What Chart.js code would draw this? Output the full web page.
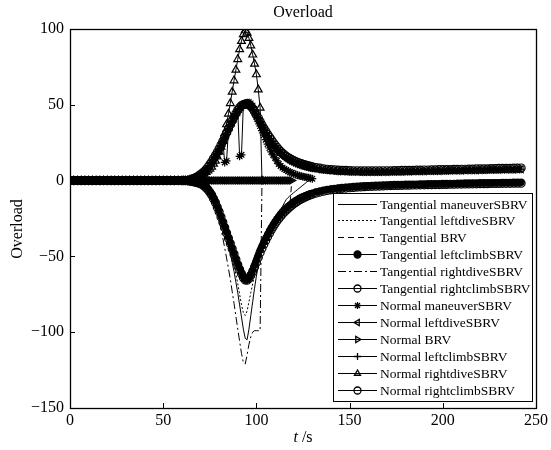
<!DOCTYPE html>
<html>
<head>
<meta charset="utf-8">
<script src="https://cdn.jsdelivr.net/npm/chart.js@4.4.1/dist/chart.umd.min.js"></script>
<style>
  html, body { margin: 0; padding: 0; background: #fff; }
  #wrap { width: 551px; height: 450px; }
</style>
</head>
<body>
<div id="wrap"><canvas id="overloadChart" width="551" height="450"></canvas></div>
<script>
// time, s (finer sampling through the manoeuvre)
const t = [0,2,4,6,8,10,12,14,16,18,20,22,24,26,28,30,32,34,36,38,40,42,44,46,48,50,52,54,56,58,60,
  61,62,63,64,65,66,67,68,69,70,71,72,73,74,75,76,77,78,79,80,81,82,83,84,85,86,87,88,89,90,
  91,92,93,94,95,96,97,98,99,100,101,102,103,104,105,106,107,108,109,110,111,112,113,114,115,116,117,118,119,120,
  121,122,123,124,125,126,127,128,129,130,
  132,134,136,138,140,142,144,146,148,150,152,154,156,158,160,162,164,166,168,170,172,174,176,178,180,
  182,184,186,188,190,192,194,196,198,200,202,204,206,208,210,212,214,216,218,220,222,224,226,228,230,
  232,234,236,238,240,242];

const xTicks = [0, 50, 100, 150, 200, 250];
const yTicks = [-150, -100, -50, 0, 50, 100];

// normal overload
const normalLeftClimb = [0,0,0,0,0,0,0,0,0,0, 0,0,0,0,0,0,0,0,0,0, 0,0,0,0,0,0,0,0,0,0, 0,0,0,0,
  0.3,0.6,1,1.5,2,2.7,3.5,4.5,5.5,6.7, 8,9.7,11.5,13.5,15.5,17.7,20,22.5,25,27.7,
  30.5,33.3,36,38.5,41,43.3,45.5,47.4,49,50.2, 51,51.3,51,50,48.5,46.4,44,41.5,39,36.5,
  34,31.7,29.5,27.4,25.5,23.7,22,20.4,19,17.7, 16.5,15.4,14.5,13.7,13,12.4,11.8,11.3,10.8,10.4,
  10,9.6,9.3,9,8.7,8.4,8.2,
  7.8,7.4,7.1,6.8,6.6,6.4,6.2,6.1,6,5.9, 5.8,5.8,5.7,5.7,5.7,5.7,5.7,5.7,5.7,5.7,
  5.8,5.8,5.9,5.9,6,6,6.1,6.1,6.2,6.2,6.3,6.3,6.4,6.4,6.5,
  6.5,6.6,6.6,6.7,6.7,6.8,6.8,6.9,6.9,7,7,7.1,7.1,7.2,7.2,7.3,7.3,7.4,7.4,7.5,7.5];
const normalRightClimb = [0,0,0,0,0,0,0,0,0,0, 0,0,0,0,0,0,0,0,0,0, 0,0,0,0,0,0,0,0,0,0, 0,0,0,0,
  0.4,0.8,1.2,1.7,2.3,3.1,4,5,6,7.3, 8.8,10.6,12.5,14.5,16.5,18.7,21,23.5,26,28.7,
  31.5,34.3,37,39.5,42,44.3,46.5,48.2,49.5,50.2, 50.5,50.4,50,49,47.5,45.6,43.5,41.3,39,36.7,
  34.5,32.5,30.5,28.7,27,25.2,23.5,22,20.5,19.2, 18,17,16,15.2,14.5,13.8,13.2,12.6,12.1,11.6,
  11.2,10.8,10.4,10,9.7,9.4,9.1,
  8.6,8.2,7.8,7.5,7.3,7.1,6.9,6.8,6.7,6.6, 6.5,6.5,6.4,6.4,6.4,6.4,6.4,6.4,6.5,6.5,
  6.5,6.6,6.6,6.7,6.7,6.8,6.8,6.9,6.9,7,7,7.1,7.1,7.2,7.2,
  7.3,7.3,7.4,7.4,7.5,7.5,7.6,7.6,7.7,7.7,7.8,7.8,7.9,7.9,8,8,8.1,8.1,8.2,8.2,8.3];
const normalManeuver = [0,0,0,0,0,0,0,0,0,0, 0,0,0,0,0,0,0,0,0,0, 0,0,0,0,0,0,0,0,0,0, 0,0,0,0,
  0.3,0.6,1,1.5,2,2.7,3.5,4.5,5.5,6.7, 8,9.7,11.5,13.5,15.5,17.7,20,23,26,12,
  13,33,36.5,39,42,44,46,16,17,50, 51,51,50,48.5,47,44.5,42,39,36,33,
  30,27,24,21.5,19,17,15,13,11,9.7, 8.5,7.7,7,6.2,5.5,5,4.5,4,3.5,3.2,
  3,2.6,2.3,2,1.8,1.5,1.3];
const normalRightDive = [0,0,0,0,0,0,0,0,0,0, 0,0,0,0,0,0,0,0,0,0, 0,0,0,0,0,0,0,0,0,0, 0,0,0,0,
  0.3,0.6,1,1.5,2,2.5,3,3.7,4.5,5.5, 6.5,7.7,9,11,13,15.8,19,22.3,26,31,
  37,44,51,58.5,66,73,80,86.5,92,96.5, 99,97.5,94,89,83,77,70,60,48,0];
const normalBRV = [0,0,0,0,0,0,0,0,0,0, 0,0,0,0,0,0,0,0,0,0, 0,0,0,0,0,0,0,0,0,0, 0,0,0,0,
  0,0,0,0,0,0,0,0,0,0, 0,0,0,0,0,0,0,0,0,0, 0,0,0,0,0,0,0,0,0,0, 0,0,0,0,0,0,0,0,0,0,
  0,0,0,0,0,0,0,0,0,0, 0,0,0,0,0,0];

// tangential overload
const tanLeftClimb = [0,0,0,0,0,0,0,0,0,0, 0,0,0,0,0,0,0,0,0,0, 0,0,0,0,0,0,0,0,0,0, 0,0,0,0,
  -0.2,-0.3,-0.5,-0.7,-1,-1.2,-1.5,-2.2,-3,-4.2, -5.5,-7.2,-9,-11.5,-14,-17,-20,-23.5,-27,-30.5,
  -34,-37.5,-41,-44.5,-48,-51.5,-55,-58,-61,-63.5, -65,-65.2,-64,-61.8,-59,-55.8,-52.5,-49.2,-46,-43.2,
  -40.5,-38,-35.5,-33.2,-31,-29,-27,-25.2,-23.5,-22, -20.5,-19.2,-18,-17,-16,-15,-14,-13.2,-12.5,-11.7,
  -11,-10.5,-10,-9.5,-9,-8.6,-8.2,
  -7.5,-7,-6.5,-6,-5.6,-5.3,-5,-4.8,-4.5,-4.3, -4.1,-4,-3.8,-3.7,-3.5,
  -3.4,-3.3,-3.2,-3.1,-3,-3,-2.9,-2.8,-2.8,-2.7, -2.7,-2.6,-2.6,-2.5,-2.5,-2.4,-2.4,-2.3,-2.3,-2.2,
  -2.2,-2.1,-2.1,-2,-2,-1.9,-1.9,-1.8,-1.8,-1.7, -1.7,-1.6,-1.6,-1.5,-1.5,-1.5,-1.4,-1.4,-1.4,-1.3,-1.3];
const tanRightClimb = [0,0,0,0,0,0,0,0,0,0, 0,0,0,0,0,0,0,0,0,0, 0,0,0,0,0,0,0,0,0,0, 0,0,0,0,
  -0.3,-0.5,-0.7,-1,-1.3,-1.6,-2,-2.7,-3.5,-4.7, -6,-7.7,-9.5,-12,-14.5,-17.5,-20.5,-24,-27.5,-31,
  -34.5,-38,-41.5,-45,-48.5,-52,-55.5,-58.6,-61.5,-64, -65.5,-65.7,-64.5,-62.5,-60,-57,-54,-50.7,-47.5,-44.7,
  -42,-39.5,-37,-34.7,-32.5,-30.5,-28.5,-26.7,-25,-23.5, -22,-20.7,-19.5,-18.4,-17.3,-16.3,-15.3,-14.4,-13.6,-12.8,
  -12.1,-11.5,-10.9,-10.4,-9.9,-9.4,-9,
  -8.2,-7.6,-7,-6.5,-6.1,-5.7,-5.4,-5.1,-4.9,-4.7, -4.5,-4.3,-4.2,-4,-3.9,
  -3.8,-3.7,-3.6,-3.5,-3.4,-3.3,-3.2,-3.2,-3.1,-3, -3,-2.9,-2.9,-2.8,-2.8,-2.7,-2.7,-2.6,-2.6,-2.5,
  -2.5,-2.4,-2.4,-2.3,-2.3,-2.2,-2.2,-2.1,-2.1,-2, -2,-2,-1.9,-1.9,-1.9,-1.8,-1.8,-1.8,-1.7,-1.7,-1.7];
const tanManeuver = [0,0,0,0,0,0,0,0,0,0, 0,0,0,0,0,0,0,0,0,0, 0,0,0,0,0,0,0,0,0,0, 0,0,0,0,
  -0.2,-0.3,-0.5,-0.7,-1,-1.2,-1.5,-2.2,-3,-4.2, -5.5,-7.2,-9,-11.5,-14,-17,-20,-24,-28,-32.5,
  -37,-42.5,-48,-54,-60,-67,-74,-82,-90,-98, -104,-105,-98,-89,-80,-71,-63,-56,-50,-45,
  -41,-38,-35,-32.5,-30,-27.7,-25.5,-23.5,-21.5,-19.2, -17,-14.7,-12.5,-11.2,-10,-9,-8,-7,-6,-5,
  -4,-3,-2,-1,0,0.7,1.3];
const tanLeftDive = [0,0,0,0,0,0,0,0,0,0, 0,0,0,0,0,0,0,0,0,0, 0,0,0,0,0,0,0,0,0,0, 0,0,0,0,
  -0.2,-0.3,-0.5,-0.7,-1,-1.2,-1.5,-2.2,-3,-4.2, -5.5,-7.2,-9,-11.5,-14,-17,-20,-23.5,-27,-31,
  -35,-40,-45,-50.5,-56,-62,-68,-75,-82,-87, -89,-86,-80,-74,-68,-62,-56,-51,-47,-43.2,
  -40.5,-38,-35.5,-33.2,-31,-29,-27,-25.2,-23.5,-22, -20.5,-19.2,-18,-17,-16,-15,-14,-13.2,-12.5,-11.7,
  -11,-10.5,-10,-9.5,-9,-8.6,-8.2,
  -7.5,-7,-6.5,-6,-5.6,-5.3,-5,-4.8,-4.5,-4.3, -4.1,-4,-3.8,-3.7,-3.5,
  -3.4,-3.3,-3.2,-3.1,-3,-3,-2.9,-2.8,-2.8,-2.7, -2.7,-2.6,-2.6,-2.5,-2.5,-2.4,-2.4,-2.3,-2.3,-2.2,
  -2.2,-2.1,-2.1,-2,-2,-1.9,-1.9,-1.8,-1.8,-1.7, -1.7,-1.6,-1.6,-1.5,-1.5,-1.5,-1.4,-1.4,-1.4,-1.3,-1.3];
const tanBRV = [0,0,0,0,0,0,0,0,0,0, 0,0,0,0,0,0,0,0,0,0, 0,0,0,0,0,0,0,0,0,0, 0,0,0,0,
  -0.2,-0.3,-0.5,-0.7,-1,-1.2,-1.5,-2.2,-3,-4.2, -5.5,-7.2,-9,-11.5,-14,-17,-20,-23.5,-27,-30.5,
  -34,-37.5,-41,-44.5,-48,-51.5,-55,-58,-61,-63.5, -65,-65.2,-64,-61.8,-59,-55.8,-52.5,-49.2,-46,-43.2,
  -40.5,-38,-35.5,-33.2,-31,-29,-27,-25.2,-23.5,-22, -20.5,-19.2,-18,-17,-16,0];
const tanRightDive = [0,0,0,0,0,0,0,0,0,0, 0,0,0,0,0,0,0,0,0,0, 0,0,0,0,0,0,0,0,0,0, 0,0,0,0,
  -0.2,-0.3,-0.5,-0.7,-1,-1.2,-1.5,-2.2,-3,-4.2, -5.5,-7.5,-10,-13.5,-17,-21.5,-26,-32,-38,-44.5,
  -51,-58,-65,-73,-81,-89.5,-98,-106,-114,-120, -121,-115,-108,-103,-100,-99,-99,-99,-99,0];

const FONT = '"Liberation Serif", "Times New Roman", serif';

function pts(vals) {
  return vals.map((v, i) => ({ x: t[i], y: v }));
}

function series(label, vals, style) {
  return Object.assign({
    label: label,
    data: pts(vals),
    showLine: true,
    borderColor: '#000',
    backgroundColor: '#000',
    pointBorderColor: '#000',
    pointBackgroundColor: 'rgba(0,0,0,0)',
    borderWidth: 1,
    pointBorderWidth: 1.2,
    pointRadius: 0,
    pointStyle: 'circle',
    pointRotation: 0,
    tension: 0
  }, style);
}

// marker series: a heavier line stands in for the packed markers of the original
const datasets = [
  series('Tangential maneuverSBRV', tanManeuver, {}),
  series('Tangential leftdiveSBRV', tanLeftDive, { borderDash: [2, 2] }),
  series('Tangential BRV', tanBRV, { borderDash: [6, 4] }),
  series('Tangential leftclimbSBRV', tanLeftClimb, { pointRadius: 3, pointBackgroundColor: '#000', borderWidth: 2.5 }),
  series('Tangential rightdiveSBRV', tanRightDive, { borderDash: [8, 3, 2, 3] }),
  series('Tangential rightclimbSBRV', tanRightClimb, { pointRadius: 4, borderWidth: 2.5 }),
  series('Normal maneuverSBRV', normalManeuver, { pointStyle: 'star', pointRadius: 4 }),
  series('Normal leftdiveSBRV', normalLeftClimb, { pointStyle: 'triangle', pointRotation: -90, pointRadius: 4, borderWidth: 2.5 }),
  series('Normal BRV', normalBRV, { pointStyle: 'triangle', pointRotation: 90, pointRadius: 4, borderWidth: 2.5 }),
  series('Normal leftclimbSBRV', normalLeftClimb, { pointStyle: 'cross', pointRadius: 4, borderWidth: 2.5 }),
  series('Normal rightdiveSBRV', normalRightDive, { pointStyle: 'triangle', pointRadius: 4.5 }),
  series('Normal rightclimbSBRV', normalRightClimb, { pointRadius: 4, borderWidth: 2.5 })
];

// box, inside ticks, titles and the boxed legend
const decor = {
  id: 'decor',
  afterDatasetsDraw(chart) {
    const ctx = chart.ctx;
    const a = chart.chartArea;
    const xs = chart.scales.x, ys = chart.scales.y;
    ctx.save();
    ctx.strokeStyle = '#000';

    // legend
    const lx = 333, ly = 193, lw = 199, lh = 208;
    ctx.fillStyle = '#fff';
    ctx.fillRect(lx, ly, lw, lh);
    ctx.lineWidth = 1;
    ctx.strokeRect(lx + 0.5, ly + 0.5, lw, lh);
    ctx.font = '13.5px ' + FONT;
    ctx.textBaseline = 'middle';
    ctx.textAlign = 'left';
    chart.data.datasets.forEach((ds, i) => {
      const y = Math.round(203.5 + i * 16.97) + 0.5;
      ctx.save();
      ctx.strokeStyle = '#000';
      ctx.lineWidth = 1.2;
      ctx.setLineDash(ds.borderDash || []);
      ctx.beginPath();
      ctx.moveTo(338, y);
      ctx.lineTo(377, y);
      ctx.stroke();
      ctx.setLineDash([]);
      if (ds.pointRadius > 0) {
        ctx.fillStyle = ds.pointBackgroundColor;
        ctx.strokeStyle = '#000';
        ctx.lineWidth = 1.3;
        Chart.helpers.drawPoint(ctx, {
          pointStyle: ds.pointStyle,
          radius: 3.5,
          rotation: ds.pointRotation,
          borderWidth: 1.3
        }, 357.5, y);
      }
      ctx.restore();
      ctx.fillStyle = '#000';
      ctx.fillText(ds.label, 380, y + 0.5);
    });

    // axes box
    ctx.lineWidth = 1.3;
    ctx.strokeRect(a.left + 0.5, a.top + 0.5, a.right - a.left, a.bottom - a.top);

    // inside ticks
    ctx.lineWidth = 1;
    ctx.beginPath();
    xTicks.forEach(v => {
      const px = Math.round(xs.getPixelForValue(v)) + 0.5;
      ctx.moveTo(px, a.bottom);
      ctx.lineTo(px, a.bottom - 5);
    });
    yTicks.forEach(v => {
      const py = Math.round(ys.getPixelForValue(v)) + 0.5;
      ctx.moveTo(a.left, py);
      ctx.lineTo(a.left + 5, py);
    });
    ctx.stroke();

    // title
    ctx.fillStyle = '#000';
    ctx.textAlign = 'center';
    ctx.textBaseline = 'middle';
    ctx.font = '16px ' + FONT;
    const cx = (a.left + a.right) / 2;
    ctx.fillText('Overload', cx, 13);

    // x label, italic t
    ctx.font = 'italic 16px ' + FONT;
    const wt = ctx.measureText('t').width;
    ctx.font = '16px ' + FONT;
    const ws = ctx.measureText(' /s').width;
    const x0 = cx - (wt + ws) / 2;
    ctx.textAlign = 'left';
    ctx.font = 'italic 16px ' + FONT;
    ctx.fillText('t', x0, 438);
    ctx.font = '16px ' + FONT;
    ctx.fillText(' /s', x0 + wt, 438);

    // y label
    ctx.translate(18, 229);
    ctx.rotate(-Math.PI / 2);
    ctx.textAlign = 'center';
    ctx.fillText('Overload', 0, 0);
    ctx.restore();
  }
};

new Chart(document.getElementById('overloadChart').getContext('2d'), {
  type: 'scatter',
  data: { datasets: datasets },
  plugins: [decor],
  options: {
    responsive: false,
    animation: false,
    layout: { padding: { top: 29, right: 15, left: 0, bottom: 0 } },
    plugins: { legend: { display: false }, tooltip: { enabled: false }, title: { display: false } },
    scales: {
      x: {
        type: 'linear', min: 0, max: 250,
        afterFit: s => { s.height = 42; },
        afterBuildTicks: s => { s.ticks = xTicks.map(v => ({ value: v })); },
        grid: { display: false, drawTicks: false }, border: { display: false },
        ticks: { color: '#000', padding: 3, font: { family: FONT, size: 16 } }
      },
      y: {
        type: 'linear', min: -150, max: 100,
        afterFit: s => { s.width = 70; },
        afterBuildTicks: s => { s.ticks = yTicks.map(v => ({ value: v })); },
        grid: { display: false, drawTicks: false }, border: { display: false },
        ticks: {
          color: '#000', padding: 6, font: { family: FONT, size: 16 },
          callback: v => String(v).replace('-', '\u2212')
        }
      }
    }
  }
});
</script>
</body>
</html>
